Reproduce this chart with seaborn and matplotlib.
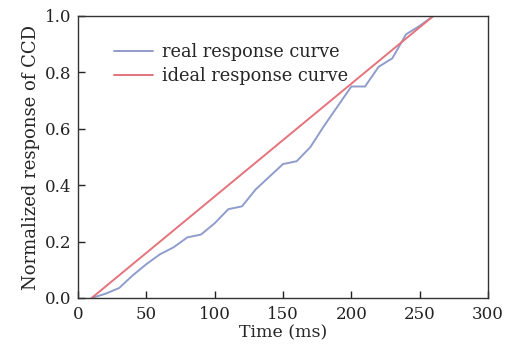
import matplotlib
matplotlib.use("Agg")
import matplotlib.pyplot as plt
import seaborn as sns
import pandas as pd

time_real = [10, 20, 30, 40, 50, 60, 70, 80, 90, 100, 110, 120, 130, 140, 150,
             160, 170, 180, 190, 200, 210, 220, 230, 240, 250, 260]
resp_real = [0.0, 0.015, 0.035, 0.08, 0.12, 0.155, 0.18, 0.215, 0.225, 0.265,
             0.315, 0.325, 0.385, 0.43, 0.475, 0.485, 0.535, 0.61, 0.68, 0.75,
             0.75, 0.82, 0.85, 0.935, 0.965, 1.0]
time_ideal = [10, 260]
resp_ideal = [0.0, 1.0]

sns.set_style("ticks")
plt.rcParams['font.family'] = ['DejaVu Serif']
plt.rcParams['mathtext.fontset'] = 'dejavuserif'

fig = plt.figure(figsize=(5.1, 3.5), dpi=100)
ax = fig.add_axes([78/510, 52/350, 410/510, 282/350])

df_real = pd.DataFrame({"t": time_real, "r": resp_real})
df_ideal = pd.DataFrame({"t": time_ideal, "r": resp_ideal})
sns.lineplot(data=df_real, x="t", y="r", ax=ax, color="#8f9dcc", lw=1.4,
             label="real response curve")
sns.lineplot(data=df_ideal, x="t", y="r", ax=ax, color="#e5737c", lw=1.4,
             label="ideal response curve")

ax.set_xlim(0, 300)
ax.set_ylim(0, 1.0)
ax.set_xticks([0, 50, 100, 150, 200, 250, 300])
ax.set_yticks([0.0, 0.2, 0.4, 0.6, 0.8, 1.0])
ax.set_yticklabels(["0.0", "0.2", "0.4", "0.6", "0.8", "1.0"])
ax.tick_params(direction="in", length=5, width=1, labelsize=12, colors="#222222")
ax.tick_params(axis="x", pad=6)
ax.tick_params(axis="y", pad=5)
ax.set_xlabel("Time (ms)", fontsize=12.5, labelpad=1)
ax.set_ylabel("Normalized response of CCD", fontsize=13, labelpad=3)
for s in ax.spines.values():
    s.set_linewidth(1.0)
    s.set_color("#333333")

leg = ax.legend(loc="upper left", bbox_to_anchor=(0.07, 0.93), frameon=False,
                fontsize=12.8, handlelength=2.2, handletextpad=0.5,
                borderaxespad=0, labelspacing=0.35)

fig.savefig("out.png", dpi=100)
